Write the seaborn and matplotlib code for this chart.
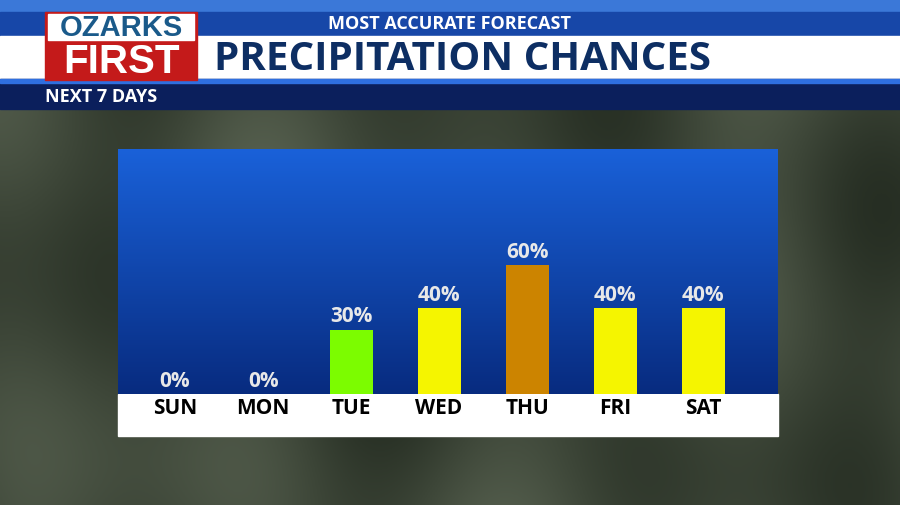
import matplotlib
matplotlib.use("Agg")
import matplotlib.pyplot as plt
import numpy as np
import pandas as pd
import seaborn as sns
from matplotlib.patches import Rectangle

DAYS   = ["SUN", "MON", "TUE", "WED", "THU", "FRI", "SAT"]
CHANCE = [0, 0, 30, 40, 60, 40, 40]
COLORS = ["#f5f500", "#f5f500", "#7cfc00", "#f5f500", "#cc8400", "#f5f500", "#f5f500"]

W, H = 900, 506
fig = plt.figure(figsize=(9, 5.06), dpi=100)

# background (blurred dark foliage look)
bg = fig.add_axes([0, 0, 1, 1])
yy, xx = np.mgrid[0:1:200j, 0:1:360j]
tex = 0.5 + 0.25 * np.sin(xx * 9 + yy * 3) * np.cos(yy * 7 - xx * 4) + 0.15 * np.sin(xx * 23 + 1.3)
c1, c2 = np.array([0.12, 0.15, 0.11]), np.array([0.36, 0.40, 0.33])
img = c1 + (c2 - c1) * tex[..., None]
bg.imshow(img, extent=[0, W, 0, H], aspect="auto")
bg.set_xlim(0, W); bg.set_ylim(H, 0); bg.axis("off")

def px(x0, y0, w, h):
    return [x0 / W, 1 - (y0 + h) / H, w / W, h / H]

# header bands
bg.add_patch(Rectangle((0, 0), W, 13, color="#3b78d8"))
bg.add_patch(Rectangle((0, 13), W, 24, color="#1747a8"))
bg.add_patch(Rectangle((0, 37), W, 43, color="white"))
bg.add_patch(Rectangle((0, 80), W, 30, color="#0b1f5c"))
bg.add_patch(Rectangle((0, 80), W, 4, color="#2f6fe0"))
bg.text(450, 24, "MOST ACCURATE FORECAST", color="white", fontsize=13, fontweight="bold",
        ha="center", va="center", family="Open Sans")
bg.text(462, 59, "PRECIPITATION CHANCES", color="#0d2e63", fontsize=29, fontweight="bold",
        ha="center", va="center", family="Open Sans")
bg.text(45, 97, "NEXT 7 DAYS", color="white", fontsize=13, fontweight="bold",
        ha="left", va="center", family="Open Sans")
# logo
bg.add_patch(Rectangle((45, 13), 152, 68, color="#c41a1a"))
bg.add_patch(Rectangle((48, 15), 146, 26, color="white"))
bg.text(121, 28, "OZARKS", color="#1a5a8a", fontsize=21, fontweight="heavy",
        ha="center", va="center", family="Liberation Sans")
bg.text(121, 62, "FIRST", color="white", fontsize=29, fontweight="heavy",
        ha="center", va="center", family="Liberation Sans")

# white day strip
bg.add_patch(Rectangle((118, 395), 660, 42, color="white"))

ax = fig.add_axes(px(118, 150, 660, 245))
grad = np.linspace(0, 1, 100)[:, None]
bot, top = np.array([0.10, 0.38, 0.85]), np.array([0.03, 0.17, 0.50])
gimg = top + (bot - top) * grad[..., None]
ymax = 245 / 2.15
ax.imshow(gimg, extent=[-0.648, 6.85, 0, ymax], origin="lower", aspect="auto", zorder=0)

df = pd.DataFrame({"day": DAYS, "chance": CHANCE})
sns.barplot(data=df, x="day", y="chance", hue="day", palette=COLORS, legend=False,
            width=0.49, saturation=1, ax=ax, zorder=2)
for i, v in enumerate(CHANCE):
    ax.text(i, v + 1.5, f"{v}%", color="#e8e8e8", fontsize=15, fontweight="bold",
            ha="center", va="bottom", family="Open Sans")
    bg.text(175 + 88 * i, 409, DAYS[i], color="black", fontsize=15, fontweight="bold",
            ha="center", va="center", family="Open Sans")
ax.set_xlim(-0.648, 6.85)
ax.set_ylim(0, ymax)
ax.axis("off")

fig.savefig("out.png", dpi=100)
